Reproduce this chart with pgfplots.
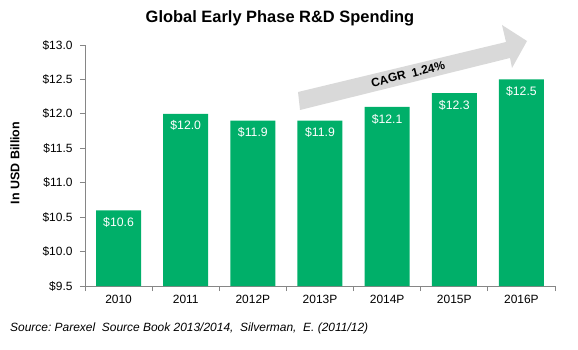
\documentclass[border=0pt]{standalone}
\usepackage{pgfplots}
\pgfplotsset{compat=1.18}
\usepackage{fontspec}
\setmainfont{Liberation Sans}
\definecolor{bargreen}{RGB}{0,175,105}
\definecolor{axgray}{RGB}{134,134,134}
\definecolor{arrowgray}{RGB}{217,217,217}
\begin{document}
\begin{tikzpicture}
\path[use as bounding box] (-85bp,-64bp) rectangle (493bp,286bp);
\begin{axis}[
  at={(0,0)}, anchor=south west,
  scale only axis, width=470bp, height=241bp,
  xmin=-0.5, xmax=6.5, ymin=9.5, ymax=13,
  axis x line*=bottom, axis y line*=left,
  axis line style={axgray, line width=0.8pt},
  xtick={0,1,2,3,4,5,6},
  xticklabels={2010,2011,2012P,2013P,2014P,2015P,2016P},
  minor xtick={-0.5,0.5,1.5,2.5,3.5,4.5,5.5,6.5},
  major x tick style={draw=none},
  minor tick length=5bp,
  minor x tick style={axgray, line width=0.8pt},
  xtick pos=bottom, ytick pos=left,
  ytick={9.5,10,10.5,11,11.5,12,12.5,13},
  yticklabels={\$9.5,\$10.0,\$10.5,\$11.0,\$11.5,\$12.0,\$12.5,\$13.0},
  y tick style={axgray, line width=0.8pt},
  major tick length=5bp,
  tick align=outside,
  /pgf/number format/assume math mode=true,
  tick label style={font=\fontsize{12}{14}\selectfont, black},
  xticklabel style={yshift=-1bp},
  yticklabel style={xshift=-4bp},
  ybar, bar width=45bp,
  nodes near coords={\$\pgfmathprintnumber[fixed,fixed zerofill,precision=1]{\pgfplotspointmeta}},
  nodes near coords style={white, anchor=center, yshift=-12bp, font=\fontsize{12.3}{14}\selectfont},
  clip=false,
]
\addplot[fill=bargreen, draw=none] coordinates {(0,10.6) (1,12.0) (2,11.9) (3,11.9) (4,12.1) (5,12.3) (6,12.5)};
\end{axis}
\fill[arrowgray] (213bp,194bp) -- (421bp,244bp) -- (417bp,261bp) -- (442bp,245bp) -- (427bp,218bp) -- (425bp,228bp) -- (215bp,176bp) -- cycle;
\node[rotate=14, font=\bfseries\fontsize{12}{14}\selectfont, inner sep=0pt] at (323bp,212bp) {CAGR\ \ 1.24\%};
\node[font=\bfseries\fontsize{16.5}{18}\selectfont] at (195bp,268bp) {Global Early Phase R\&D Spending};
\node[rotate=90, font=\bfseries\fontsize{12.5}{14}\selectfont] at (-70bp,123bp) {In USD Billion};
\node[anchor=west, font=\itshape\fontsize{12}{14}\selectfont, inner sep=0pt] at (-75bp,-42bp) {Source:\ Parexel\ \ Source Book 2013/2014,\ \ Silverman,\ \ E. (2011/12)};
\end{tikzpicture}
\end{document}
